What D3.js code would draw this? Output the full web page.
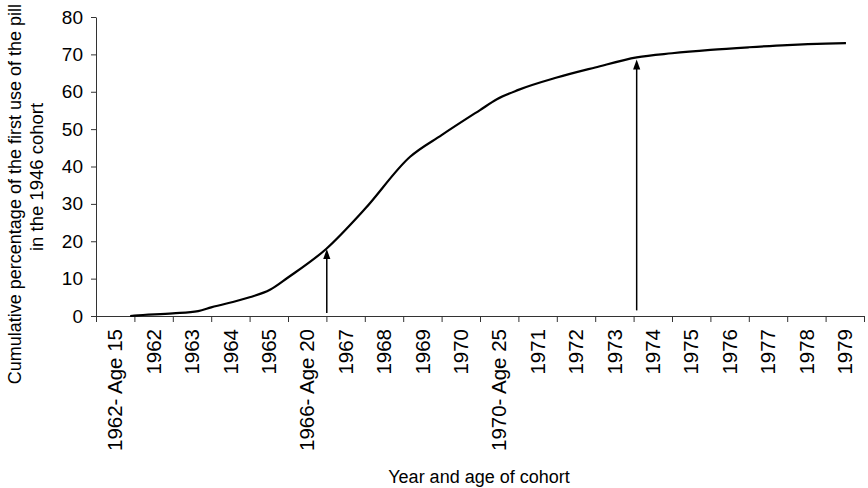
<!DOCTYPE html>
<html>
<head>
<meta charset="utf-8">
<script src="https://cdn.jsdelivr.net/npm/d3@7/dist/d3.min.js"></script>
<style>
  html, body { margin: 0; padding: 0; background: #fff; }
  svg { display: block; font-family: "Liberation Sans", Arial, sans-serif; }
</style>
</head>
<body>
<svg id="chart" width="868" height="488"></svg>
<script>
// ---- Data ----
const categories = ["1962- Age 15", "1962", "1963", "1964", "1965", "1966- Age 20", "1967", "1968", "1969", "1970",
  "1970- Age 25", "1971", "1972", "1973", "1974", "1975", "1976", "1977", "1978", "1979"];
// curve positions measured in category units along the axis (0 = left edge of first category)
const curvePos = [0.89, 1, 2, 2.66, 3, 4, 4.53, 5, 6, 7, 8.18, 9, 10, 10.44, 11, 12, 13, 14.08, 15, 16, 17, 18, 19, 19.53];
const curveVal = [0, 0.1, 0.7, 1.3, 2.3, 5.0, 7.0, 10.3, 18.0, 28.6, 42.6, 48.4, 55.1, 58.0, 60.5, 63.8, 66.5, 69.2, 70.3, 71.2, 71.9, 72.5, 72.9, 73.0];
const yTicks = [0, 10, 20, 30, 40, 50, 60, 70, 80];
const arrowPos = [6.01, 14.08];
const arrowFrom = [0.8, 1.5];
const arrowTo = [17.9, 68.6];
const xTitle = "Year and age of cohort";
const yTitle = ["Cumulative percentage of the first use of the pill", "in the 1946 cohort"];

// ---- Layout ----
const mLeft = 96, mRight = 864, mTop = 17, mBottom = 316;
const svg = d3.select("#chart");

const x = d3.scaleLinear().domain([0, categories.length]).range([mLeft, mRight]);
const xBand = d3.scaleBand().domain(categories).range([mLeft, mRight]).padding(0);
const y = d3.scaleLinear().domain([0, 80]).range([mBottom, mTop]);

const axisColor = "#333";

// Y axis
const yAxis = svg.append("g").attr("transform", `translate(${mLeft},0)`)
  .call(d3.axisLeft(y).tickValues(yTicks).tickSize(5).tickSizeOuter(0).tickPadding(8));
yAxis.select(".domain").attr("stroke", axisColor);
yAxis.selectAll(".tick line").attr("stroke", axisColor);
yAxis.selectAll(".tick text").attr("font-size", 19).attr("fill", "#000")
  .attr("font-family", "'Liberation Sans', Arial, sans-serif");

// X axis ticks at category boundaries
const xAxis = svg.append("g").attr("transform", `translate(0,${mBottom})`)
  .call(d3.axisBottom(x).tickValues(d3.range(0, categories.length + 1)).tickSize(6).tickSizeOuter(0).tickFormat(""));
xAxis.select(".domain").attr("stroke", axisColor);
xAxis.selectAll(".tick line").attr("stroke", axisColor);

// X labels at category centers (rotated)
const xLab = svg.append("g").attr("transform", `translate(0,${mBottom})`)
  .call(d3.axisBottom(xBand).tickSize(0).tickPadding(0));
xLab.select(".domain").remove();
xLab.selectAll(".tick text")
  .attr("font-size", 20.5).attr("fill", "#000")
  .attr("font-family", "'Liberation Sans', Arial, sans-serif")
  .attr("text-anchor", "end")
  .attr("transform", "translate(0,13) rotate(-90)")
  .attr("x", 0).attr("y", 0).attr("dy", "0.35em");

// Curve
const pts = curvePos.map((p, i) => [p, curveVal[i]]);
svg.append("path")
  .datum(pts)
  .attr("fill", "none").attr("stroke", "#000").attr("stroke-width", 2.2)
  .attr("stroke-linejoin", "round")
  .attr("d", d3.line().x(d => x(d[0])).y(d => y(d[1])).curve(d3.curveMonotoneX));

// Arrows
arrowPos.forEach((p, i) => {
  const ax = x(p), y0 = y(arrowFrom[i]), y1 = y(arrowTo[i]);
  svg.append("line").attr("x1", ax).attr("x2", ax).attr("y1", y0).attr("y2", y1 + 8)
    .attr("stroke", "#000").attr("stroke-width", 1.5);
  svg.append("path")
    .attr("d", `M${ax},${y1} L${ax - 3.6},${y1 + 10} L${ax + 3.6},${y1 + 10} Z`)
    .attr("fill", "#000");
});

// Titles
svg.append("text").attr("x", (mLeft + mRight) / 2 - 1).attr("y", 483)
  .attr("text-anchor", "middle").attr("font-size", 18).attr("fill", "#000").text(xTitle);

svg.append("text").attr("transform", "translate(21,4) rotate(-90)")
  .attr("text-anchor", "end").attr("font-size", 18).attr("fill", "#000").text(yTitle[0]);
svg.append("text").attr("transform", "translate(43,177) rotate(-90)")
  .attr("text-anchor", "middle").attr("font-size", 18.5).attr("fill", "#000").text(yTitle[1]);
</script>
</body>
</html>
